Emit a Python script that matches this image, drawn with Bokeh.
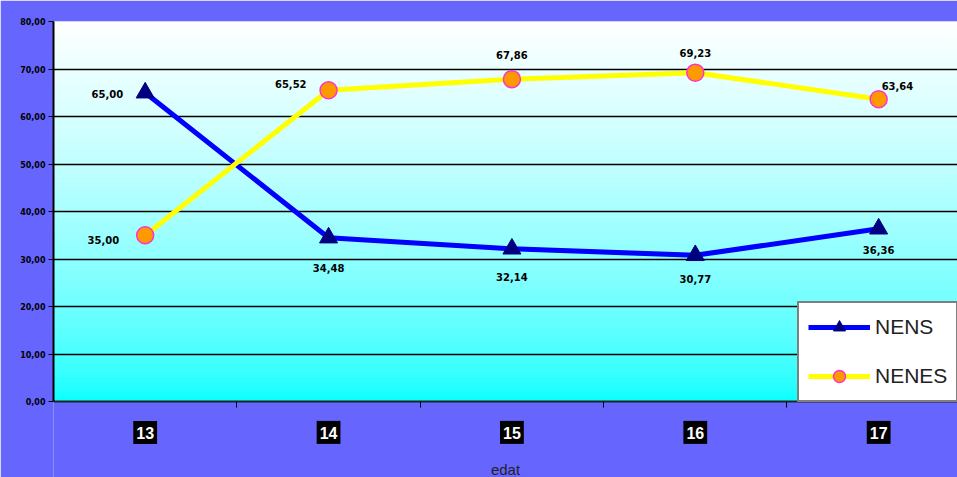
import numpy as np
from bokeh.plotting import figure
from bokeh.models import Range1d, Label, Legend, LegendItem, FixedTicker
from bokeh.core.properties import value
from bokeh.embed import file_html
from bokeh.resources import INLINE

# ---- data ----
ages = [13, 14, 15, 16, 17]
age_labels = ["13", "14", "15", "16", "17"]
nens = [65.00, 34.48, 32.14, 30.77, 36.36]
nenes = [35.00, 65.52, 67.86, 69.23, 63.64]
nens_labels = ["65,00", "34,48", "32,14", "30,77", "36,36"]
nenes_labels = ["35,00", "65,52", "67,86", "69,23", "63,64"]
y_ticks = [0, 10, 20, 30, 40, 50, 60, 70, 80]
y_tick_labels = ["0,00", "10,00", "20,00", "30,00", "40,00", "50,00", "60,00", "70,00", "80,00"]
x_title = "edat"

W, H = 957, 477
X0, X1 = 12.5, 17.43
Y0, Y1 = -16.0, 80.0
p = figure(width=W, height=H, output_backend="svg", toolbar_location=None,
           x_range=Range1d(X0, X1), y_range=Range1d(Y0, Y1),
           min_border_left=53, min_border_top=21, min_border_bottom=0, min_border_right=0)
p.border_fill_color = "#6666ff"
p.background_fill_color = "#6666ff"
p.outline_line_color = None

# gradient plot area (decoration)
edges = np.linspace(0, 80, 81)
cols = []
for i in range(80):
    t = (i + 0.5) / 80.0  # 0 bottom -> 1 top
    r = int(round(255 * t ** 0.6))
    cols.append("#%02xffff" % r)
bg = p.quad(left=X0, right=X1, bottom=edges[:-1], top=edges[1:], fill_color=cols,
            line_color=cols, line_width=1.2)
bg.level = "image"

# grid
p.xgrid.grid_line_color = None
p.ygrid.grid_line_color = "black"
p.ygrid.grid_line_width = 1.4
p.ygrid.ticker = FixedTicker(ticks=y_ticks[1:])

# y axis
p.yaxis.ticker = FixedTicker(ticks=y_ticks)
p.yaxis.bounds = (0, 80)
p.yaxis.major_label_overrides = {t: l for t, l in zip(y_ticks, y_tick_labels)}
p.yaxis.major_label_text_font = "DejaVu Sans"
p.yaxis.major_label_text_font_style = "bold"
p.yaxis.major_label_text_font_size = "8px"
p.yaxis.major_label_text_color = "black"
p.yaxis.axis_line_color = "black"
p.yaxis.axis_line_width = 2
p.yaxis.major_tick_line_color = "black"
p.yaxis.major_tick_out = 5
p.yaxis.major_tick_in = 0
p.yaxis.minor_tick_line_color = None
p.yaxis.major_label_standoff = 3

# x axis at y = 0
p.xaxis.fixed_location = 0
p.xaxis.ticker = FixedTicker(ticks=[a + 0.5 for a in ages[:-1]])
p.xaxis.major_label_text_font_size = "0px"
p.xaxis.major_label_text_color = None
p.xaxis.axis_line_color = "#222222"
p.xaxis.axis_line_width = 2
p.xaxis.major_tick_line_color = "black"
p.xaxis.major_tick_out = 6
p.xaxis.major_tick_in = 0
p.xaxis.minor_tick_line_color = None

# x category labels: white on black boxes
for a, lab in zip(ages, age_labels):
    p.add_layout(Label(x=a, y=-6.5, text=lab, text_align="center", text_baseline="middle",
                       text_color="white", text_font="Liberation Sans", text_font_style="bold",
                       text_font_size="16px", background_fill_color="black",
                       padding=dict(left=3, right=3, top=6, bottom=5)))
p.add_layout(Label(x=(X0 + X1) / 2, y=-14.3, text=x_title, text_align="center", text_baseline="middle",
                   text_color="#222222", text_font="Liberation Sans", text_font_size="15px"))

# series
r1 = p.line(ages, nens, line_color="#0000ff", line_width=5)
m1 = p.scatter(ages, nens, marker="triangle", size=18, fill_color="#000080", line_color="#000080")
r2 = p.line(ages, nenes, line_color="#ffff00", line_width=5)
m2 = p.scatter(ages, nenes, marker="circle", size=17, fill_color="#ff9900", line_color="#ff33cc", line_width=1.5)

# data labels
lab_font = value("DejaVu Sans")
def dlabel(x, y, t, xo, yo, align, base):
    p.text(x=[x], y=[y], text=[t], x_offset=xo, y_offset=yo, text_align=align, text_baseline=base,
           text_font=lab_font, text_font_style="bold", text_font_size="10px", text_color="black")

nens_pos = [(-22, 1, "right", "middle"), (0, 30, "center", "middle"), (0, 28, "center", "middle"),
            (0, 24, "center", "middle"), (0, 21, "center", "middle")]
nenes_pos = [(-26, 5, "right", "middle"), (-22, -6, "right", "middle"), (0, -24, "center", "middle"),
             (0, -20, "center", "middle"), (3, -13, "left", "middle")]
for i in range(len(ages)):
    dlabel(ages[i], nens[i], nens_labels[i], *nens_pos[i])
    dlabel(ages[i], nenes[i], nenes_labels[i], *nenes_pos[i])

legend = Legend(items=[LegendItem(label="NENS", renderers=[r1, m1]),
                       LegendItem(label="NENES", renderers=[r2, m2])],
                location=(744, 75))
legend.label_text_font = "Liberation Sans"
legend.label_text_font_size = "21px"
legend.label_text_color = "#222222"
legend.glyph_width = 62
legend.glyph_height = 30
legend.label_height = 30
legend.spacing = 19
legend.padding = 9
legend.margin = 0
legend.border_line_color = "black"
legend.border_line_width = 2
legend.background_fill_color = "white"
legend.background_fill_alpha = 1
p.add_layout(legend)

open("out.html", "w").write(file_html(p, INLINE))
